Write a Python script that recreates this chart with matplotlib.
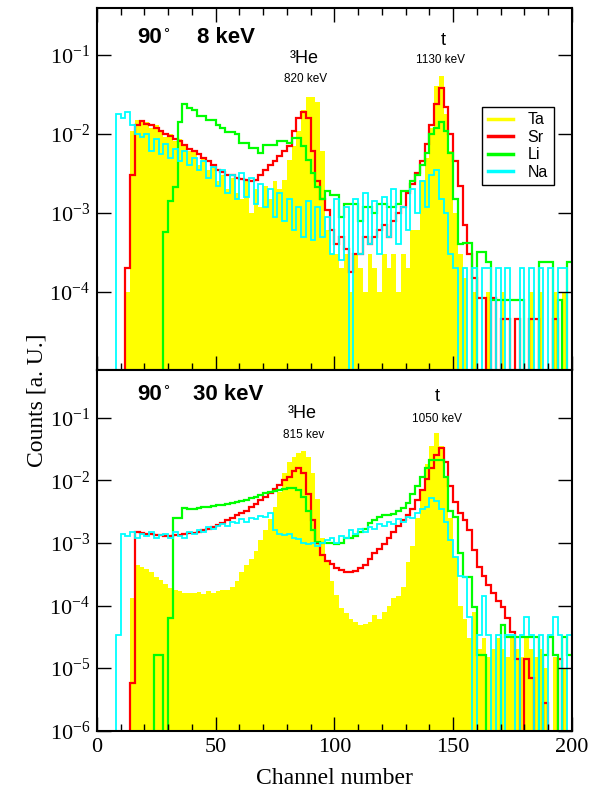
import numpy as np
import matplotlib
matplotlib.use("Agg")
import matplotlib.pyplot as plt
from matplotlib.ticker import MultipleLocator, LogLocator, NullLocator, LogFormatterMathtext
from matplotlib.lines import Line2D

plt.rcParams['font.family'] = ['Liberation Serif', 'DejaVu Serif']
plt.rcParams['mathtext.fontset'] = 'stix'

##########################################################################################
#### Data: counts per 2-channel bin (channels 0..200)
edges = np.arange(0, 202, 2)

# ---- 90 deg, 8 keV
ta_8 = [0, 0, 0, 0, 0, 0, 1e-4, 1.1e-2, 1.5e-2, 1.45e-2,
        1.4e-2, 1.2e-2, 1.3e-2, 1.1e-2, 9e-3, 1.0e-2, 8e-3, 8.5e-3, 7e-3, 6e-3,
        6e-3, 4e-3, 5e-3, 3.5e-3, 4e-3, 2.5e-3, 3e-3, 2e-3, 2.8e-3, 1.8e-3,
        1.5e-3, 2.5e-3, 1e-3, 2e-3, 1.2e-3, 2.2e-3, 1.5e-3, 2.5e-3, 2e-3, 2.6e-3,
        4.7e-3, 7e-3, 1.1e-2, 2e-2, 2.9e-2, 2.9e-2, 2.5e-2, 6e-3, 6e-4, 3e-4,
        3e-4, 2e-4, 3e-4, 1e-4, 3e-4, 2e-4, 1e-4, 3e-4, 2e-4, 1e-4,
        3e-4, 2e-4, 3e-4, 1e-4, 3e-4, 2e-4, 6e-4, 6e-4, 2.6e-3, 5e-3,
        1.2e-2, 4e-2, 5.4e-2, 1.8e-2, 6e-3, 1e-3, 3e-4, 1.5e-4, 0, 1e-4,
        0, 0, 1e-4, 0, 0, 1e-4, 0, 0, 0, 0,
        0, 1e-4, 0, 1e-4, 0, 0, 1e-4, 0, 1e-4, 0]
sr_8 = [0, 0, 0, 0, 0, 0, 2e-4, 3e-3, 1.3e-2, 1.45e-2,
        1.35e-2, 1.3e-2, 1.2e-2, 1.1e-2, 1.0e-2, 9.5e-3, 8.5e-3, 8e-3, 7.2e-3, 6.5e-3,
        6e-3, 5.5e-3, 5e-3, 4.5e-3, 4e-3, 3.5e-3, 3.3e-3, 3e-3, 3e-3, 2.8e-3,
        2.7e-3, 2.6e-3, 2.5e-3, 2.6e-3, 3e-3, 3.5e-3, 4e-3, 4.5e-3, 5.2e-3, 6e-3,
        7e-3, 1.1e-2, 1.6e-2, 1.9e-2, 1.6e-2, 6e-3, 2.5e-3, 1.5e-3, 1.1e-3, 6e-4,
        4e-4, 5e-4, 3.5e-4, 1.8e-4, 3e-4, 3e-4, 5e-4, 4e-4, 5e-4, 6e-4,
        7e-4, 5e-4, 8e-4, 1e-3, 1.2e-3, 1.8e-3, 2.3e-3, 3.2e-3, 4.5e-3, 7.5e-3,
        1.3e-2, 2.4e-2, 3.8e-2, 2.2e-2, 1.0e-2, 4.5e-3, 2.2e-3, 7e-4, 3e-4, 1.5e-4,
        8.5e-5, 8.5e-5, 0, 8.5e-5, 0, 4.5e-5, 4.5e-5, 0, 4.5e-5, 0,
        0, 4.5e-5, 4.5e-5, 0, 0, 0, 4.5e-5, 0, 0, 0]
li_8 = [0, 0, 0, 0, 0, 0, 0, 0, 0, 0,
        0, 0, 0, 0, 5.7e-4, 1.4e-3, 2.1e-3, 1.4e-2, 2.4e-2, 2.1e-2,
        2.0e-2, 1.7e-2, 1.7e-2, 1.5e-2, 1.5e-2, 1.3e-2, 1.2e-2, 1.06e-2, 1.06e-2, 1.0e-2,
        7.7e-3, 7.7e-3, 6.6e-3, 6.6e-3, 5.7e-3, 7.2e-3, 7.2e-3, 7.2e-3, 8e-3, 8e-3,
        7.6e-3, 8.9e-3, 8.9e-3, 7e-3, 4.7e-3, 3.2e-3, 2.1e-3, 1.5e-3, 1.9e-3, 1.7e-3,
        1.7e-3, 9e-4, 1.3e-3, 1.3e-3, 1.3e-3, 8e-4, 1.2e-3, 1.2e-3, 1.0e-3, 1.3e-3,
        1.3e-3, 1.2e-3, 1.2e-3, 1.3e-3, 1.9e-3, 1.9e-3, 2.5e-3, 3e-3, 4e-3, 5.7e-3,
        1e-2, 1.2e-2, 1.4e-2, 1.1e-2, 5.7e-3, 1.5e-3, 4e-4, 4.2e-4, 4.2e-4, 0,
        3.2e-4, 3.2e-4, 2.4e-4, 8e-5, 8e-5, 8e-5, 8e-5, 8e-5, 8e-5, 8e-5,
        0, 0, 0, 2.4e-4, 2.4e-4, 2.4e-4, 0, 8e-5, 0, 2.4e-4]
na_8 = [0, 0, 0, 0, 1.8e-2, 1.6e-2, 1.9e-2, 1.3e-2, 1.0e-2, 9e-3,
        1.0e-2, 6e-3, 8.5e-3, 5.5e-3, 7.5e-3, 5e-3, 6.5e-3, 4.5e-3, 6e-3, 4e-3,
        5e-3, 3.5e-3, 4.5e-3, 2.8e-3, 3.8e-3, 2.2e-3, 3.5e-3, 1.8e-3, 3e-3, 1.5e-3,
        3.2e-3, 1.6e-3, 2.8e-3, 1.3e-3, 2.3e-3, 1.2e-3, 2e-3, 9e-4, 1.8e-3, 8e-4,
        1.5e-3, 6e-4, 1.2e-3, 5e-4, 1.4e-3, 4.5e-4, 1.2e-3, 5e-4, 9e-4, 3e-4,
        1.5e-3, 2.5e-4, 1.2e-3, 0, 1.5e-3, 3e-4, 1.8e-3, 4e-4, 1.4e-3, 3e-4,
        1.6e-3, 5e-4, 2e-3, 4e-4, 1.2e-3, 6e-4, 2e-3, 1e-3, 2.5e-3, 1.2e-3,
        3e-3, 3.5e-3, 1.5e-3, 1e-3, 3e-4, 2e-4, 0, 2e-4, 0, 2e-4,
        0, 2e-4, 2e-4, 0, 2e-4, 0, 2e-4, 0, 0, 2e-4,
        0, 2e-4, 0, 2e-4, 0, 2e-4, 0, 2e-4, 2e-4, 0]

# ---- 90 deg, 30 keV
ta_30 = [0, 0, 0, 0, 0, 0, 0, 1.3e-4, 4.4e-4, 4.2e-4,
         3.8e-4, 3.5e-4, 2.9e-4, 2.6e-4, 2.2e-4, 1.9e-4, 1.8e-4, 1.7e-4, 1.6e-4, 1.6e-4,
         1.6e-4, 1.65e-4, 1.55e-4, 1.7e-4, 1.6e-4, 1.7e-4, 1.75e-4, 1.8e-4, 2e-4, 2.5e-4,
         3.4e-4, 4.5e-4, 5.5e-4, 7.5e-4, 1.1e-3, 1.6e-3, 2.4e-3, 3.8e-3, 6.5e-3, 1.3e-2,
         2e-2, 2.4e-2, 2.7e-2, 2.9e-2, 2.4e-2, 1.3e-2, 5e-3, 1.2e-3, 5e-4, 2.5e-4,
         1.5e-4, 9e-5, 7.5e-5, 6e-5, 5.5e-5, 4.9e-5, 5e-5, 5.5e-5, 7e-5, 6e-5,
         8e-5, 1e-4, 1.3e-4, 1.4e-4, 2e-4, 5e-4, 9e-4, 2.5e-3, 7e-3, 1.8e-2,
         3.5e-2, 5.7e-2, 3.5e-2, 1.1e-2, 2.5e-3, 6e-4, 1e-4, 6e-5, 3e-5, 8e-5,
         2e-5, 3e-5, 1.5e-5, 2e-5, 3e-5, 2e-5, 1.5e-5, 3e-5, 2e-5, 1.5e-5,
         3e-5, 2e-5, 1.5e-5, 2e-5, 1e-5, 0, 1.5e-5, 0, 1e-5, 0]
sr_30 = [0, 0, 0, 0, 0, 0, 0, 5.8e-6, 1.5e-3, 1.45e-3,
         1.4e-3, 1.4e-3, 1.35e-3, 1.35e-3, 1.3e-3, 1.3e-3, 1.35e-3, 1.35e-3, 1.4e-3, 1.45e-3,
         1.45e-3, 1.5e-3, 1.6e-3, 1.7e-3, 1.8e-3, 1.95e-3, 2.1e-3, 2.3e-3, 2.5e-3, 2.75e-3,
         3.0e-3, 3.3e-3, 3.7e-3, 4.2e-3, 4.8e-3, 5.5e-3, 6.3e-3, 7.2e-3, 8.3e-3, 1.0e-2,
         1.15e-2, 1.4e-2, 1.6e-2, 1.3e-2, 6e-3, 2.3e-3, 1e-3, 6.5e-4, 5.2e-4, 4.7e-4,
         4e-4, 3.7e-4, 3.5e-4, 3.5e-4, 3.6e-4, 4e-4, 4.5e-4, 5.5e-4, 7e-4, 8e-4,
         9.5e-4, 1.2e-3, 1.5e-3, 1.9e-3, 2.3e-3, 2.8e-3, 3.5e-3, 4.8e-3, 7e-3, 1.05e-2,
         1.6e-2, 2.5e-2, 3.3e-2, 2.0e-2, 8e-3, 4.5e-3, 3e-3, 2.3e-3, 1.6e-3, 7.8e-4,
         4.2e-4, 3e-4, 2.1e-4, 1.6e-4, 1.2e-4, 9.5e-5, 6.3e-5, 3.8e-5, 1.4e-5, 0,
         1.4e-5, 7e-6, 0, 0, 2.8e-6, 0, 0, 1.4e-5, 0, 0]
li_30 = [0, 0, 0, 0, 0, 0, 0, 0, 0, 0,
         0, 0, 1.6e-5, 1.6e-5, 0, 6.4e-5, 2.5e-3, 2.5e-3, 3.6e-3, 3.5e-3,
         3.5e-3, 3.6e-3, 3.7e-3, 3.8e-3, 3.9e-3, 4.0e-3, 4.1e-3, 4.2e-3, 4.4e-3, 4.5e-3,
         4.6e-3, 4.8e-3, 5.2e-3, 5.5e-3, 5.8e-3, 6.2e-3, 6.5e-3, 6.8e-3, 7.1e-3, 7.4e-3,
         7.6e-3, 7.6e-3, 7e-3, 5.5e-3, 3.2e-3, 1.6e-3, 1.05e-3, 1e-3, 1e-3, 1e-3,
         9.5e-4, 1.0e-3, 1.2e-3, 1.2e-3, 1.3e-3, 1.5e-3, 1.7e-3, 2.1e-3, 2.3e-3, 2.6e-3,
         2.8e-3, 2.8e-3, 2.9e-3, 3.2e-3, 3.6e-3, 4.3e-3, 6e-3, 8e-3, 1.15e-2, 1.6e-2,
         2.1e-2, 2.1e-2, 2.1e-2, 1.15e-2, 3.2e-3, 2.6e-3, 7e-4, 2.9e-4, 2.9e-4, 9.5e-5,
         1.6e-5, 1.6e-5, 0, 0, 0, 4.9e-5, 3.2e-5, 3.2e-5, 3.2e-5, 3.2e-5,
         3.2e-5, 3.2e-5, 3.2e-5, 0, 1.6e-5, 3.2e-5, 1.6e-5, 0, 3.2e-5, 1.6e-5]
na_30 = [0, 0, 0, 0, 3.4e-5, 1.4e-3, 1.3e-3, 1.5e-3, 1.2e-3, 1.4e-3,
         1.3e-3, 1.5e-3, 1.2e-3, 1.35e-3, 1.4e-3, 1.2e-3, 1.5e-3, 1.3e-3, 1.2e-3, 1.5e-3,
         1.4e-3, 1.6e-3, 1.5e-3, 1.8e-3, 1.7e-3, 1.9e-3, 2.0e-3, 1.9e-3, 2.2e-3, 2.1e-3,
         2.4e-3, 2.2e-3, 2.5e-3, 2.4e-3, 2.7e-3, 2.6e-3, 3e-3, 1.6e-3, 1.4e-3, 1.35e-3,
         1.4e-3, 1.2e-3, 1.15e-3, 1.0e-3, 9.5e-4, 1.0e-3, 9e-4, 1.0e-3, 1.1e-3, 1.2e-3,
         1.0e-3, 1.3e-3, 1.2e-3, 1.6e-3, 1.4e-3, 1.7e-3, 1.5e-3, 1.8e-3, 1.7e-3, 2.0e-3,
         1.9e-3, 2.2e-3, 2.0e-3, 2.4e-3, 2.2e-3, 2.6e-3, 2.5e-3, 3e-3, 3.5e-3, 3.8e-3,
         5.2e-3, 4.6e-3, 3.5e-3, 2.2e-3, 1.1e-3, 6e-4, 3e-4, 2.9e-4, 6.5e-5, 0,
         3.4e-5, 1.4e-4, 3.4e-5, 0, 3.4e-5, 0, 3.4e-5, 3.4e-5, 0, 3.4e-5,
         6.5e-5, 3.4e-5, 0, 3.4e-5, 0, 3.4e-5, 6.5e-5, 3.4e-5, 0, 3.4e-5]

labels = ['Ta', 'Sr', 'Li', 'Na']
colors = ['#ffff00', '#ff0000', '#00ff00', '#00ffff']

##########################################################################################
#### Figure
fig = plt.figure(figsize=(5.98, 7.92), dpi=100)
ax1 = fig.add_axes([0.1622, 0.5328, 0.7943, 0.4571])
ax2 = fig.add_axes([0.1622, 0.0770, 0.7943, 0.4558])


def pos(v):
    v = np.asarray(v, dtype=float)
    return np.where(v > 0, v, 1e-9)


def draw(ax, ta, sr, li, na):
    ax.stairs(pos(ta), edges, fill=True, baseline=1e-9, color=colors[0], lw=0)
    ax.stairs(pos(sr), edges, baseline=None, color=colors[1], lw=1.6)
    ax.stairs(pos(li), edges, baseline=None, color=colors[2], lw=1.6)
    ax.stairs(pos(na), edges, baseline=None, color=colors[3], lw=1.3)
    ax.set_yscale('log')
    ax.set_xlim(0, 200)
    ax.xaxis.set_major_locator(MultipleLocator(50))
    ax.xaxis.set_minor_locator(MultipleLocator(10))
    ax.yaxis.set_major_locator(LogLocator(base=10, numticks=12))
    ax.yaxis.set_minor_locator(NullLocator())
    ax.yaxis.set_major_formatter(LogFormatterMathtext())
    ax.tick_params(which='both', direction='in', right=True, width=1, labelsize=16)
    ax.tick_params(which='major', length=10, pad=5)
    ax.tick_params(which='minor', length=5)
    for s in ax.spines.values():
        s.set_linewidth(1.5)


draw(ax1, ta_8, sr_8, li_8, na_8)
ax1.set_ylim(1.03e-5, 0.39)
ax1.tick_params(which='both', top=True, labelbottom=False)

draw(ax2, ta_30, sr_30, li_30, na_30)
ax2.set_ylim(0.99e-6, 0.58)
ax2.tick_params(which='both', top=False)

########## Annotations
sans = 'Liberation Sans'
for ax, yb, yd, xe, e_txt in [(ax1, 0.903, 0.917, 0.211, '8 keV'),
                              (ax2, 0.917, 0.931, 0.202, '30 keV')]:
    ax.text(0.084, yb, '90', transform=ax.transAxes, family=sans, fontweight='bold', fontsize=16)
    ax.text(0.139, yd, '\u00b0', transform=ax.transAxes, family=sans, fontsize=11)
    ax.text(xe, yb, e_txt, transform=ax.transAxes, family=sans, fontweight='bold', fontsize=16)

ax1.text(0.406, 0.848, '\u00b3He', transform=ax1.transAxes, family=sans, fontsize=13)
ax1.text(0.44, 0.796, '820 keV', transform=ax1.transAxes, family=sans, fontsize=8.5, ha='center')
ax1.text(0.729, 0.898, 't', transform=ax1.transAxes, family=sans, fontsize=13, ha='center')
ax1.text(0.724, 0.848, '1130 keV', transform=ax1.transAxes, family=sans, fontsize=8.5, ha='center')

ax2.text(0.402, 0.867, '\u00b3He', transform=ax2.transAxes, family=sans, fontsize=13)
ax2.text(0.434, 0.812, '815 kev', transform=ax2.transAxes, family=sans, fontsize=8.5, ha='center')
ax2.text(0.716, 0.914, 't', transform=ax2.transAxes, family=sans, fontsize=13, ha='center')
ax2.text(0.716, 0.856, '1050 keV', transform=ax2.transAxes, family=sans, fontsize=8.5, ha='center')

########## Legend
handles = [Line2D([], [], color=c, lw=2.5) for c in colors]
leg = ax1.legend(handles, labels, loc='upper left', bbox_to_anchor=(0.811, 0.727),
                 borderaxespad=0, fancybox=False, framealpha=1, edgecolor='black',
                 prop={'family': sans, 'size': 11.5}, handlelength=1.6,
                 handletextpad=0.9, labelspacing=0.15, borderpad=0.35)
leg.get_frame().set_linewidth(1.0)

########## Axis labels
fig.text(0.560, 0.0101, 'Channel number', ha='center', va='baseline', fontsize=17)
fig.text(0.062, 0.495, 'Counts [a. U.]', ha='center', va='center', rotation=90, fontsize=17)

fig.savefig('out.png', dpi=100)
